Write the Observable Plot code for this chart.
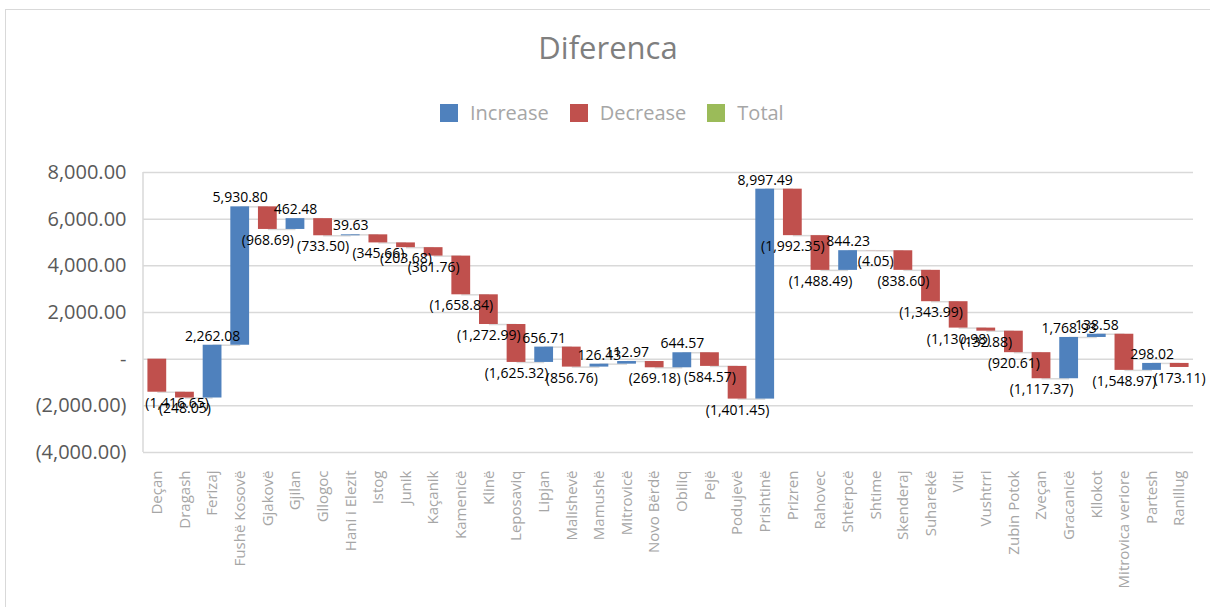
<!DOCTYPE html>
<html>
<head>
<meta charset="utf-8">
<script src="https://cdn.jsdelivr.net/npm/d3@7"></script>
<script src="https://cdn.jsdelivr.net/npm/@observablehq/plot@0.6"></script>
<style>
  html, body { margin: 0; padding: 0; background: #fff; }
  body { width: 1210px; height: 607px; position: relative; overflow: hidden; font-family: "Open Sans", sans-serif; }
  #border { position: absolute; left: 5px; top: 9px; width: 1220px; height: 620px; border-left: 1.5px solid #d9d9d9; border-top: 1.5px solid #d9d9d9; }
  #title { position: absolute; left: 0; top: 26px; width: 1216px; text-align: center; font-size: 31px; color: #7f7f7f; }
  #legend { position: absolute; left: 440px; top: 99px; display: flex; align-items: center; font-size: 20px; color: #a6a6a6; }
  #legend .sw { width: 18px; height: 18px; margin-right: 12px; }
  #legend .lab { margin-right: 21px; }
  #chart { position: absolute; left: 0; top: 150px; }
</style>
</head>
<body>
<div id="border"></div>
<div id="title">Diferenca</div>
<div id="legend"></div>
<div id="chart"></div>
<script>
const categories = ["Deçan","Dragash","Ferizaj","Fushë Kosovë","Gjakovë","Gjilan","Gllogoc","Hani i Elezit","Istog","Junik","Kaçanik","Kamenicë","Klinë","Leposaviq","Lipjan","Malishevë","Mamushë","Mitrovicë","Novo Bërdë","Obiliq","Pejë","Podujevë","Prishtinë","Prizren","Rahovec","Shtërpcë","Shtime","Skenderaj","Suharekë","Viti","Vushtrri","Zubin Potok","Zveçan","Gracanicë","Kllokot","Mitrovica veriore","Partesh","Ranillug"];
const values = [-1416.65,-248.05,2262.08,5930.80,-968.69,462.48,-733.50,39.63,-345.66,-203.68,-361.76,-1658.84,-1272.99,-1625.32,656.71,-856.76,126.43,112.97,-269.18,644.57,-584.57,-1401.45,8997.49,-1992.35,-1488.49,844.23,-4.05,-838.60,-1343.99,-1130.98,-132.88,-920.61,-1117.37,1768.93,138.58,-1548.97,298.02,-173.11];
const yTicks = [-4000,-2000,0,2000,4000,6000,8000];
const legendItems = ["Increase","Decrease","Total"];
const legendColors = ["#4F81BD","#C0504D","#9BBB59"];

// legend
const lg = document.getElementById("legend");
legendItems.forEach((name, i) => {
  const sw = document.createElement("div"); sw.className = "sw"; sw.style.background = legendColors[i];
  const lab = document.createElement("div"); lab.className = "lab"; lab.textContent = name;
  lg.appendChild(sw); lg.appendChild(lab);
});

// waterfall table
let cum = 0;
const data = categories.map((c, i) => {
  const start = cum; cum += values[i];
  return {c, v: values[i], start, end: cum, next: categories[i + 1], i};
});

const f2 = d3.format(",.2f");
const fmtVal = v => v < 0 ? "(" + f2(-v) + ")" : f2(v);
const fmtAxis = v => v === 0 ? "-" : fmtVal(v);

const leftLine = (index, scales, values, dim) => {
  const l = document.createElementNS("http://www.w3.org/2000/svg", "line");
  l.setAttribute("x1", dim.marginLeft); l.setAttribute("x2", dim.marginLeft);
  l.setAttribute("y1", scales.y(8000)); l.setAttribute("y2", scales.y(-4000));
  l.setAttribute("stroke", "#d9d9d9"); l.setAttribute("stroke-width", 1.5);
  return l;
};

const chart = Plot.plot({
  width: 1210,
  height: 457,
  marginLeft: 143,
  marginRight: 17,
  marginTop: 22,
  marginBottom: 155,
  style: {fontFamily: "Open Sans, sans-serif", background: "transparent"},
  x: {type: "band", domain: categories, paddingInner: 0.32, paddingOuter: 0.16, round: false, label: null},
  y: {domain: [-4000, 8000], label: null},
  marks: [
    Plot.gridY(yTicks, {stroke: "#d9d9d9", strokeOpacity: 1, strokeWidth: 1.5}),
    leftLine,
    Plot.link(data.filter(d => d.next), {x1: "c", x2: "next", y1: "end", y2: "end", stroke: "#d9d9d9", strokeWidth: 1.5}),
    Plot.barY(data, {x: "c", y1: "start", y2: "end", fill: d => d.v >= 0 ? legendColors[0] : legendColors[1]}),
    Plot.text(data.filter(d => d.v >= 0), {x: "c", y: "end", text: d => fmtVal(d.v), dy: -9, fontSize: 14, fill: "#000"}),
    Plot.text(data.filter(d => d.v < 0 && d.i > 0), {x: "c", y: "end", text: d => fmtVal(d.v), dy: 11, fontSize: 14, fill: "#000"}),
    Plot.text(data.filter(d => d.v < 0 && d.i === 0), {x: "c", y: "end", text: d => fmtVal(d.v), dy: 11, dx: -12, textAnchor: "start", fontSize: 14, fill: "#000"}),
    Plot.axisY({ticks: yTicks, tickFormat: fmtAxis, tickSize: 0, tickPadding: 17, fontSize: 20, color: "#595959", label: null}),
    Plot.axisX({tickRotate: -90, tickSize: 0, tickPadding: 18, fontSize: 15, color: "#a6a6a6", label: null})
  ]
});
document.getElementById("chart").appendChild(chart);
</script>
</body>
</html>
